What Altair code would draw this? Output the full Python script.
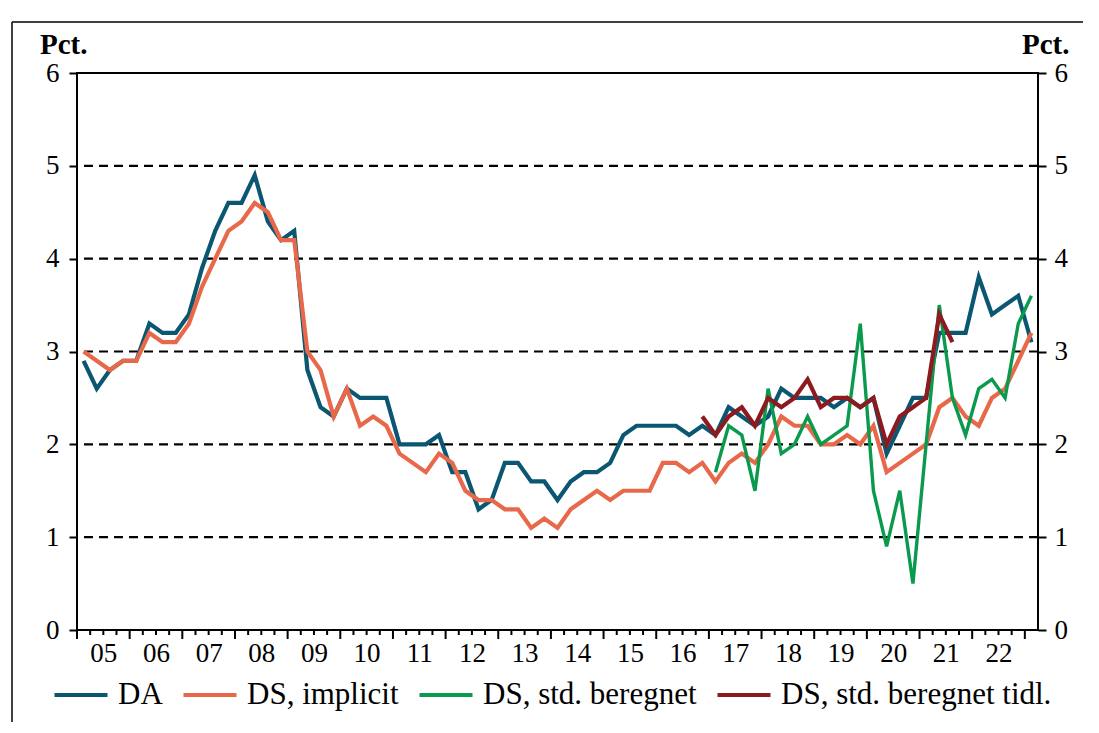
import altair as alt
import pandas as pd

# ---- data -------------------------------------------------------------
years = [f"{y:02d}" for y in range(5, 23)]          # 05 .. 22 (axis labels)
n_quarters = 73                                       # 2005K1 .. 2023K1

da = [2.9, 2.6, 2.8, 2.9, 2.9, 3.3, 3.2, 3.2, 3.4, 3.9,
      4.3, 4.6, 4.6, 4.9, 4.4, 4.2, 4.3, 2.8, 2.4, 2.3,
      2.6, 2.5, 2.5, 2.5, 2.0, 2.0, 2.0, 2.1, 1.7, 1.7,
      1.3, 1.4, 1.8, 1.8, 1.6, 1.6, 1.4, 1.6, 1.7, 1.7,
      1.8, 2.1, 2.2, 2.2, 2.2, 2.2, 2.1, 2.2, 2.1, 2.4,
      2.3, 2.2, 2.3, 2.6, 2.5, 2.5, 2.5, 2.4, 2.5, 2.4,
      2.5, 1.9, 2.2, 2.5, 2.5, 3.2, 3.2, 3.2, 3.8, 3.4,
      3.5, 3.6, 3.1]

ds_implicit = [3.0, 2.9, 2.8, 2.9, 2.9, 3.2, 3.1, 3.1, 3.3, 3.7,
               4.0, 4.3, 4.4, 4.6, 4.5, 4.2, 4.2, 3.0, 2.8, 2.3,
               2.6, 2.2, 2.3, 2.2, 1.9, 1.8, 1.7, 1.9, 1.8, 1.5,
               1.4, 1.4, 1.3, 1.3, 1.1, 1.2, 1.1, 1.3, 1.4, 1.5,
               1.4, 1.5, 1.5, 1.5, 1.8, 1.8, 1.7, 1.8, 1.6, 1.8,
               1.9, 1.8, 2.0, 2.3, 2.2, 2.2, 2.0, 2.0, 2.1, 2.0,
               2.2, 1.7, 1.8, 1.9, 2.0, 2.4, 2.5, 2.3, 2.2, 2.5,
               2.6, 2.9, 3.2]

ds_std_start = 48
ds_std = [1.7, 2.2, 2.1, 1.5, 2.6, 1.9, 2.0, 2.3, 2.0, 2.1,
          2.2, 3.3, 1.5, 0.9, 1.5, 0.5, 2.0, 3.5, 2.5, 2.1,
          2.6, 2.7, 2.5, 3.3, 3.6]

ds_tidl_start = 47
ds_tidl = [2.3, 2.1, 2.3, 2.4, 2.2, 2.5, 2.4, 2.5, 2.7, 2.4,
           2.5, 2.5, 2.4, 2.5, 2.0, 2.3, 2.4, 2.5, 3.4, 3.1]

series_names = ["DA", "DS, implicit", "DS, std. beregnet", "DS, std. beregnet tidl."]
series_colors = ["#0B5772", "#E8694A", "#0A9A4E", "#8C1A1F"]
series_widths = [4.2, 4.2, 3.4, 4.2]
grid_values = [1, 2, 3, 4, 5]
y_ticks = [0, 1, 2, 3, 4, 5, 6]

# ---- tables -------------------------------------------------------------
rows = []
for name, vals, start in [(series_names[0], da, 0),
                          (series_names[1], ds_implicit, 0),
                          (series_names[2], ds_std, ds_std_start),
                          (series_names[3], ds_tidl, ds_tidl_start)]:
    for k, v in enumerate(vals):
        rows.append({"series": name, "t": start + k + 0.5, "v": v})
df = pd.DataFrame(rows)

ticks_df = pd.DataFrame({"t": list(range(0, n_quarters)),
                         "long": [q % 4 == 0 for q in range(0, n_quarters)]})
grid_df = pd.DataFrame({"v": grid_values})
one = pd.DataFrame({"label": ["Pct."]})

W, H = 961, 557
FONT = "Liberation Serif"

xscale = alt.Scale(domain=[0, n_quarters], nice=False, zero=False)
yscale = alt.Scale(domain=[0, 6], nice=False)
xaxis = alt.Axis(values=[4 * k + 2 for k in range(len(years))],
                 labelExpr="format(floor(datum.value / 4) + 5, '02d')",
                 tickSize=0, domain=False, grid=False, title=None,
                 labelFont=FONT, labelFontSize=27, labelColor="black",
                 labelPadding=10)
x_enc = alt.X("t:Q", scale=xscale, axis=xaxis)

color = alt.Color("series:N",
                  scale=alt.Scale(domain=series_names, range=series_colors),
                  legend=alt.Legend(orient="none", legendX=-25, legendY=593,
                                    direction="horizontal", title=None,
                                    symbolType="stroke", symbolSize=2809,
                                    symbolStrokeWidth=4.2, labelFont=FONT,
                                    labelFontSize=31, labelColor="black",
                                    labelOffset=8, columnPadding=12,
                                    labelLimit=500))

grid = alt.Chart(grid_df).mark_rule(color="black", strokeWidth=2.2,
                                    strokeDash=[9, 6]).encode(
    y=alt.Y("v:Q", scale=yscale,
            axis=alt.Axis(orient="right", values=y_ticks, tickSize=8,
                          tickWidth=2, tickColor="black", domain=False,
                          grid=False, title=None, labelFont=FONT,
                          labelFontSize=27, labelColor="black",
                          labelPadding=8)))

layers = [grid]
for i, name in enumerate(series_names):
    yax = None
    if i == 0:
        yax = alt.Axis(orient="left", values=y_ticks, tickSize=8, tickWidth=2,
                       tickColor="black", domain=False, grid=False,
                       title=None, labelFont=FONT, labelFontSize=27,
                       labelColor="black", labelPadding=10)
    layers.append(
        alt.Chart(df).transform_filter(alt.datum.series == name)
        .mark_line(strokeWidth=series_widths[i], strokeJoin="miter")
        .encode(x=x_enc, y=alt.Y("v:Q", scale=yscale, axis=yax), color=color)
    )

short_ticks = alt.Chart(ticks_df).transform_filter("!datum.long").mark_rule(
    color="black", strokeWidth=2).encode(x=x_enc, y=alt.value(H), y2=alt.value(H + 5))
long_ticks = alt.Chart(ticks_df).transform_filter("datum.long").mark_rule(
    color="black", strokeWidth=2).encode(x=x_enc, y=alt.value(H), y2=alt.value(H + 9))

pct_left = alt.Chart(one).mark_text(font=FONT, fontSize=29, fontWeight="bold",
                                    align="left", baseline="alphabetic",
                                    color="black").encode(
    x=alt.value(-37), y=alt.value(-19), text="label:N")
pct_right = alt.Chart(one).mark_text(font=FONT, fontSize=29, fontWeight="bold",
                                     align="left", baseline="alphabetic",
                                     color="black").encode(
    x=alt.value(945), y=alt.value(-19), text="label:N")

frame_left = alt.Chart(one).mark_rule(color="black", strokeWidth=1.5).encode(
    x=alt.value(-65), y=alt.value(-51), y2=alt.value(H + 110))
frame_top = alt.Chart(one).mark_rule(color="black", strokeWidth=1.5).encode(
    x=alt.value(-65), x2=alt.value(W + 70), y=alt.value(-51))

chart = alt.layer(*layers, short_ticks, long_ticks, pct_left, pct_right,
                  frame_left, frame_top).resolve_axis(y="independent").properties(
    width=W, height=H,
    autosize=alt.AutoSizeParams(type="none"),
    padding={"left": 69, "top": 65, "right": 45, "bottom": 92},
).configure(background="white",
            view=alt.ViewConfig(stroke="black", strokeWidth=2))

chart.save("out.html", embed_options={"renderer": "svg", "actions": False})
